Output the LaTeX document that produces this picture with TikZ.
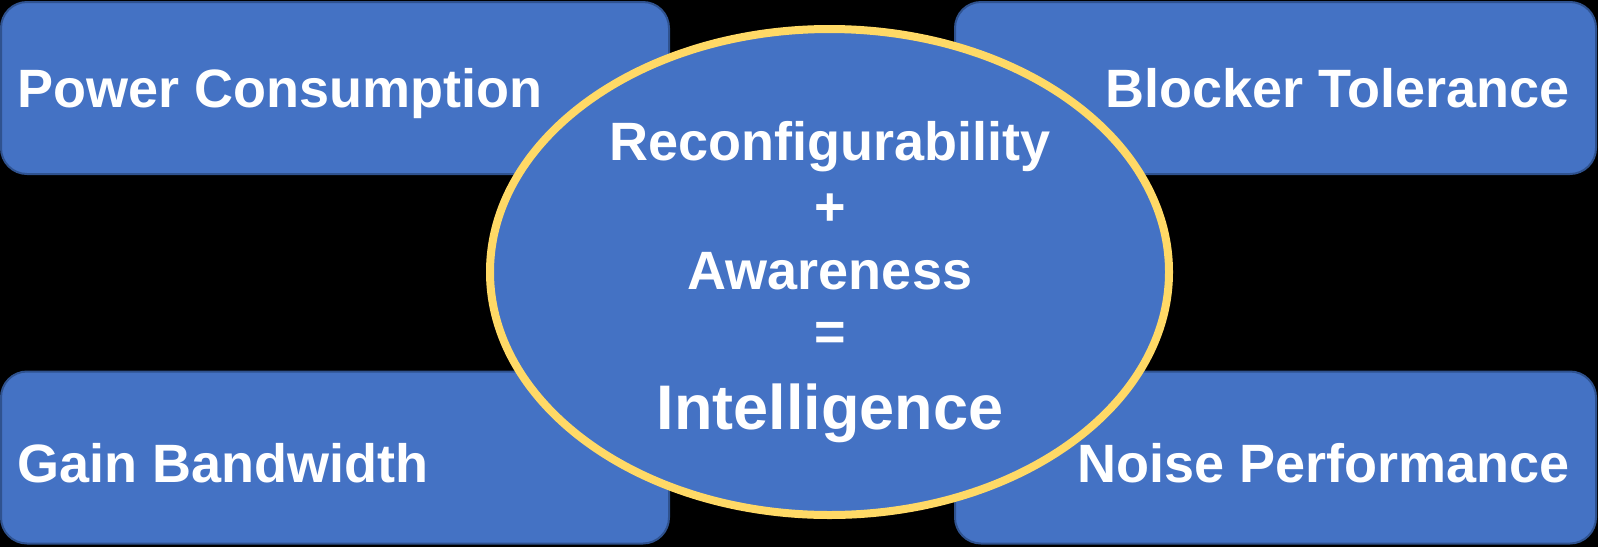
\documentclass[tikz,border=0pt]{standalone}
\usepackage{fontspec}
\setmainfont{Liberation Sans}
\usetikzlibrary{shapes.geometric}
\definecolor{boxblue}{HTML}{4472C4}
\definecolor{boxedge}{HTML}{2F528F}
\definecolor{ringgold}{HTML}{FFD966}

\begin{document}
\begin{tikzpicture}[x=1pt,y=-1pt,
  card/.style={rectangle, fill=boxblue, draw=boxedge, line width=2pt,
    rounded corners=26pt, inner sep=0pt, minimum width=#1, minimum height=172pt},
  cardtext/.style={text=white, inner sep=0pt,
    font=\fontsize{54}{60}\selectfont\bfseries},
  hubtext/.style={text=white, inner sep=0pt, anchor=base,
    font=\fontsize{54}{60}\selectfont\bfseries},
  hub/.style={ellipse, fill=boxblue, draw=ringgold, line width=8pt,
    inner sep=0pt, minimum width=679pt, minimum height=486pt}]

% black page
\fill[black] (0,0) rectangle (1598,547);
\useasboundingbox (0,0) rectangle (1598,547);

% four corner cards
\node[card=668pt] (cardPC) at (335,88) {};
\node[card=641pt] (cardBT) at (1275.5,88) {};
\node[card=668pt] (cardGB) at (335,457.5) {};
\node[card=641pt] (cardNP) at (1275.5,457.5) {};

\node[cardtext, anchor=base west] (txtPC) at (17,107) {Power Consumption};
\node[cardtext, anchor=base east] (txtBT) at (1570,107) {Blocker Tolerance};
\node[cardtext, anchor=base west] (txtGB) at (17,482) {Gain Bandwidth};
\node[cardtext, anchor=base east] (txtNP) at (1570,482) {Noise Performance};

% central ellipse
\node[hub] (hub) at (829.5,272) {};

\node[hubtext] (lnA) at (830,160) {Reconfigurability};
\node[hubtext] (lnB) at (830,225) {+};
\node[hubtext] (lnC) at (830,289) {Awareness};
\node[hubtext] (lnD) at (830,350) {=};
\node[hubtext, font=\fontsize{63}{70}\selectfont\bfseries] (lnE) at (830,429) {Intelligence};
\end{tikzpicture}
\end{document}
